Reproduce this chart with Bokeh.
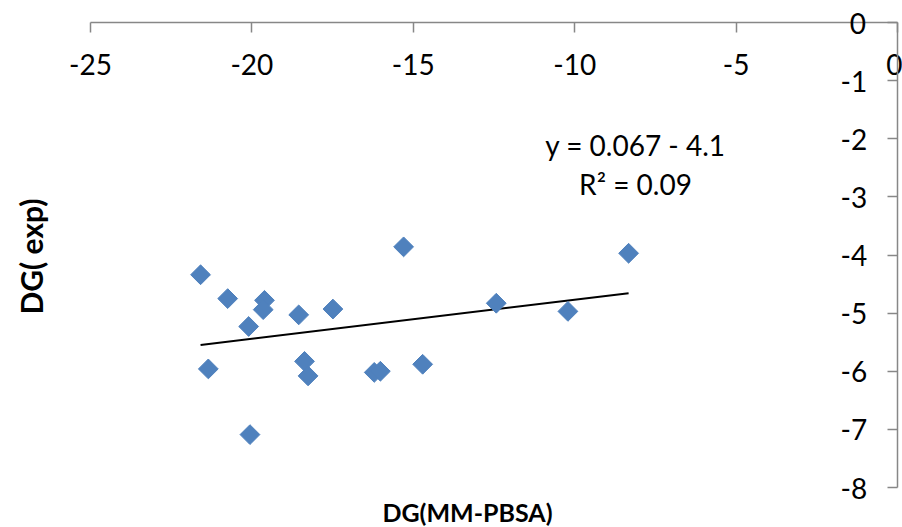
import numpy as np
from bokeh.plotting import figure
from bokeh.models import Range1d, LinearAxis, FixedTicker, Label
from bokeh.embed import file_html
from bokeh.resources import INLINE

# --- data ---
x_mmpbsa = [-21.59, -20.75, -19.61, -19.65, -20.10, -18.55, -17.49, -15.30, -21.35,
            -18.37, -18.26, -16.21, -16.02, -14.71, -20.06, -12.43, -10.21, -8.33]
y_exp = [-4.34, -4.75, -4.78, -4.94, -5.23, -5.03, -4.93, -3.86, -5.96,
         -5.83, -6.08, -6.02, -6.00, -5.88, -7.09, -4.83, -4.97, -3.97]

x_ticks = [-25, -20, -15, -10, -5, 0]
y_ticks = [0, -1, -2, -3, -4, -5, -6, -7, -8]

trend_slope = 0.067
trend_intercept = -4.1
equation_text = "y = 0.067 - 4.1"
r2_text = "R² = 0.09"
x_title = "DG(MM-PBSA)"
y_title = "DG( exp)"

# --- styling / layout ---
FONT = "Lato"
TICK_SIZE = "28px"
X_TITLE_SIZE = "25px"
Y_TITLE_SIZE = "30px"
AXIS_COLOR = "#878787"
W, H = 902, 527
X_AXIS_PX = (90, 897)     # pixel span of the x axis line (left, right)
Y_AXIS_PX = (22, 487)     # pixel span of the y axis line (top, bottom)

x0, x1 = min(x_ticks), max(x_ticks)
y0, y1 = min(y_ticks), max(y_ticks)
px_per_x = (X_AXIS_PX[1] - X_AXIS_PX[0]) / (x1 - x0)
px_per_y = (Y_AXIS_PX[1] - Y_AXIS_PX[0]) / (y1 - y0)
# frame: from canvas left edge to the y axis; from the x axis to canvas bottom
x_start = x0 - X_AXIS_PX[0] / px_per_x
y_start = y0 - (H - Y_AXIS_PX[1]) / px_per_y

p = figure(width=W, height=H,
           x_range=Range1d(x_start, x1),
           y_range=Range1d(y_start, y1),
           x_axis_location="above", y_axis_location=None,
           output_backend="svg", toolbar_location=None,
           min_border_left=0, min_border_right=W - X_AXIS_PX[1],
           min_border_top=Y_AXIS_PX[0], min_border_bottom=0)
p.outline_line_color = None
p.background_fill_color = "white"
p.border_fill_color = "white"


def style_axis(ax):
    ax.minor_tick_line_color = None
    ax.axis_line_color = AXIS_COLOR
    ax.axis_line_width = 1.5
    ax.major_tick_line_color = AXIS_COLOR
    ax.major_tick_line_width = 1.5
    ax.major_label_text_font = FONT
    ax.major_label_text_font_size = TICK_SIZE
    ax.major_label_text_color = "black"


# x axis along the top (y = 0), labels beneath the line
xa = p.xaxis[0]
xa.ticker = FixedTicker(ticks=x_ticks)
xa.major_label_overrides = {t: str(t) for t in x_ticks}
xa.bounds = (x0, x1)
xa.major_tick_in = 10
xa.major_tick_out = 0
xa.major_label_standoff = -52
style_axis(xa)

# y axis at x = 0 (right side), labels to its left (left-anchored, so the
# shorter "0" gets a 1/3-em space in front to line up on the right)
ya = LinearAxis(ticker=FixedTicker(ticks=y_ticks))
ya.major_label_overrides = {t: (str(t) if t < 0 else "\u2004" + str(t)) for t in y_ticks}
ya.bounds = (y0, y1)
ya.major_tick_in = 10
ya.major_tick_out = 0
ya.major_label_standoff = -57
style_axis(ya)
p.add_layout(ya, "right")

p.grid.visible = False

# trend line from the displayed equation, over the data's x extent
tx = np.array([min(x_mmpbsa), max(x_mmpbsa)])
ty = trend_slope * tx + trend_intercept
p.line(tx, ty, line_color="black", line_width=2)

p.scatter(x_mmpbsa, y_exp, marker="square", size=14, angle=np.pi / 4,
          fill_color="#4F81BD", line_color="#4F81BD")

# texts (screen units measured from the frame's bottom-left corner)
p.add_layout(Label(x=635, y=H - 144, x_units="screen", y_units="screen",
                   text=equation_text, text_font=FONT, text_font_size=TICK_SIZE,
                   text_align="center", text_baseline="middle", text_color="black"))
p.add_layout(Label(x=635, y=H - 183, x_units="screen", y_units="screen",
                   text=r2_text, text_font=FONT, text_font_size=TICK_SIZE,
                   text_align="center", text_baseline="middle", text_color="black"))
p.add_layout(Label(x=467, y=1, x_units="screen", y_units="screen",
                   text=x_title, text_font=FONT, text_font_size=X_TITLE_SIZE,
                   text_font_style="bold", text_align="center", text_baseline="bottom",
                   text_color="black"))
p.add_layout(Label(x=30, y=H - 256, x_units="screen", y_units="screen",
                   text=y_title, text_font=FONT, text_font_size=Y_TITLE_SIZE,
                   text_font_style="bold", text_align="center", text_baseline="middle",
                   angle=np.pi / 2, text_color="black"))

open("out.html", "w").write(file_html(p, INLINE))
